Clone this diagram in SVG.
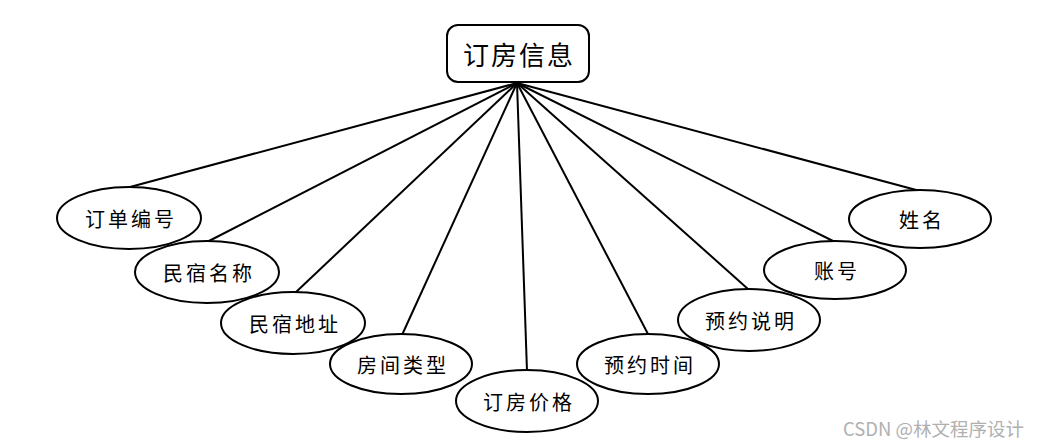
<svg xmlns="http://www.w3.org/2000/svg" width="1039" height="447" viewBox="0 0 1039 447">
<style>
.bg{fill:#ffffff}
.ent{fill:#ffffff;stroke:#000000;stroke-width:2}
.attr{fill:#ffffff;stroke:#000000;stroke-width:2}
.conn line{stroke:#000000;stroke-width:2}
.t{font-family:"Noto Sans CJK SC","Noto Sans",sans-serif;font-size:20px;fill:#000000;text-anchor:middle;dominant-baseline:central;letter-spacing:3px}
.tt{font-family:"Noto Sans CJK SC","Noto Sans",sans-serif;font-size:26px;fill:#000000;text-anchor:middle;dominant-baseline:central;letter-spacing:2px}
.wm{font-family:"Noto Sans CJK SC","Noto Sans",sans-serif;font-size:18.5px;fill:#b0b0b0}
</style>
<rect class="bg" x="0" y="0" width="1039" height="447"/>
<g id="connectors" class="conn">
<line x1="517" y1="83" x2="130" y2="187"/>
<line x1="517" y1="83" x2="207" y2="242"/>
<line x1="517" y1="83" x2="295" y2="293"/>
<line x1="517" y1="83" x2="402" y2="335"/>
<line x1="517" y1="83" x2="527" y2="371"/>
<line x1="517" y1="83" x2="648" y2="334"/>
<line x1="517" y1="83" x2="748" y2="289"/>
<line x1="517" y1="83" x2="835" y2="242"/>
<line x1="517" y1="83" x2="920" y2="191"/>
</g>
<g id="node-main">
<rect class="ent" x="447" y="25" width="142" height="57" rx="11" ry="11"/>
<text class="tt" x="519" y="53">订房信息</text>
</g>
<g id="node-1">
<ellipse class="attr" cx="129" cy="218" rx="72" ry="31"/>
<text class="t" x="131" y="218">订单编号</text>
</g>
<g id="node-2">
<ellipse class="attr" cx="207" cy="272" rx="72" ry="31"/>
<text class="t" x="209" y="272">民宿名称</text>
</g>
<g id="node-3">
<ellipse class="attr" cx="293" cy="323" rx="72" ry="31"/>
<text class="t" x="295" y="323">民宿地址</text>
</g>
<g id="node-4">
<ellipse class="attr" cx="401" cy="364" rx="71" ry="30"/>
<text class="t" x="403" y="364">房间类型</text>
</g>
<g id="node-5">
<ellipse class="attr" cx="527" cy="401" rx="71" ry="31"/>
<text class="t" x="529" y="401">订房价格</text>
</g>
<g id="node-6">
<ellipse class="attr" cx="648" cy="364" rx="71" ry="30"/>
<text class="t" x="650" y="364">预约时间</text>
</g>
<g id="node-7">
<ellipse class="attr" cx="749" cy="320" rx="71" ry="31"/>
<text class="t" x="751" y="320">预约说明</text>
</g>
<g id="node-8">
<ellipse class="attr" cx="835" cy="270" rx="71" ry="29"/>
<text class="t" x="837" y="270">账号</text>
</g>
<g id="node-9">
<ellipse class="attr" cx="920" cy="219" rx="71" ry="29"/>
<text class="t" x="922" y="219">姓名</text>
</g>
<text class="wm" x="843" y="436">CSDN @林文程序设计</text>
</svg>
